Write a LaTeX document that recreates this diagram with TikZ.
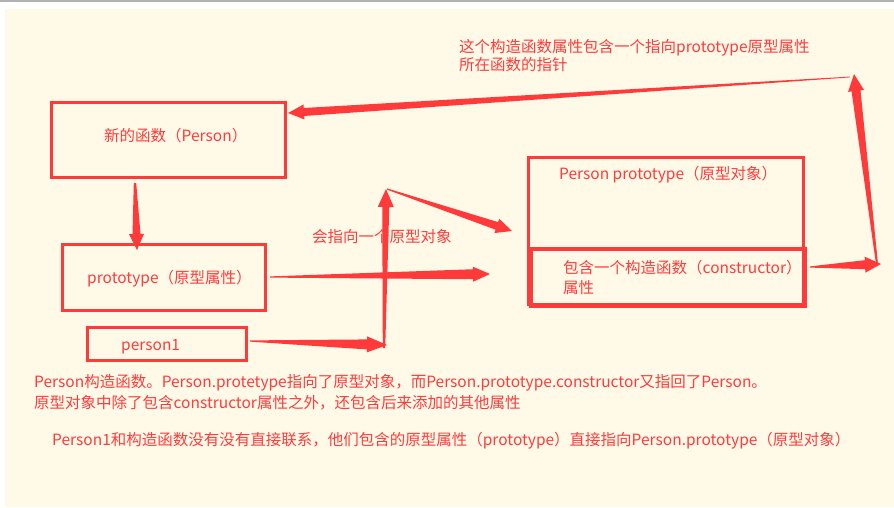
\documentclass[tikz,border=0pt]{standalone}
\usepackage{fontspec}
\setmainfont{Noto Sans CJK SC}
\usetikzlibrary{calc}
\definecolor{cream}{RGB}{255,249,232}
\definecolor{boxred}{RGB}{255,58,58}
\definecolor{txtred}{RGB}{255,60,60}
\definecolor{topgrey}{RGB}{178,178,178}
\tikzset{
  boxline/.style={draw=boxred,line width=3pt},
  lbl/.style={text=txtred,inner sep=0pt,anchor=west,font=\fontsize{15.5pt}{20pt}\selectfont,align=left},
}
% tapered arrow: #1 start, #2 tip, #3 start half width, #4 shaft half width at head, #5 head length, #6 head half width
\newcommand\taperarrow[6]{%
  \path ($(#2)!#5!(#1)$) coordinate (tmpc);
  \fill[boxred] ($(#1)!#3!90:(#2)$) -- ($(tmpc)!#4!90:(#2)$) -- ($(tmpc)!#6!90:(#2)$) -- (#2)
     -- ($(tmpc)!#6!-90:(#2)$) -- ($(tmpc)!#4!-90:(#2)$) -- ($(#1)!#3!-90:(#2)$) -- cycle;
}
\begin{document}
\begin{tikzpicture}[x=1pt,y=-1pt]
\useasboundingbox (0,0) rectangle (894,507);
\fill[white] (0,0) rectangle (894,507);
\fill[topgrey] (0,0) rectangle (894,1.5);
\fill[cream] (5,9) rectangle (894,507);

% boxes
\node[boxline,inner sep=0pt,minimum width=234pt,minimum height=75pt] (fn) at (168.5,140) {};
\node[boxline,inner sep=0pt,minimum width=203pt,minimum height=66pt] (proto) at (164,277.5) {};
\node[boxline,inner sep=0pt,minimum width=159pt,minimum height=33pt] (p1) at (167,344) {};
\node[boxline,inner sep=0pt,minimum width=275pt,minimum height=146.5pt] (pobj) at (666,230.75) {};
\node[draw=boxred,line width=4pt,inner sep=0pt,minimum width=274pt,minimum height=57pt] (ctor) at (668,277) {};

% texts
\node[lbl] (t1) at (104,136) {新的函数（Person）};
\node[lbl] (t2) at (87,279) {prototype（原型属性）};
\node[lbl] (t3) at (121,347) {person1};
\node[lbl] (t4) at (559,175) {Person prototype（原型对象）};
\node[lbl] (t5) at (563,277) {包含一个构造函数（constructor）\\属性};
\node[lbl,font=\fontsize{15.5pt}{18pt}\selectfont] (t6) at (459,56) {这个构造函数属性包含一个指向prototype原型属性\\所在函数的指针};
\node[lbl] (t7) at (312,237) {会指向一个原型对象};
\node[lbl] (b1) at (34,383) {Person构造函数。Person.protetype指向了原型对象，而Person.prototype.constructor又指回了Person。};
\node[lbl] (b2) at (34,403) {原型对象中除了包含constructor属性之外，还包含后来添加的其他属性};
\node[lbl] (b3) at (52,441) {Person1和构造函数没有没有直接联系，他们包含的原型属性（prototype）直接指向Person.prototype（原型对象）};

% connector end points
\coordinate (a1s) at (850,77);
\coordinate (a1t) at (288,113);
\coordinate (a2s) at (877,264);
\coordinate (a2t) at (854,74);
\coordinate (a3s) at (135,183);
\coordinate (a3t) at (137,250);
\coordinate (a4s) at (270,277);
\coordinate (a4t) at (490,274);
\coordinate (a5s) at (250,341);
\coordinate (a5t) at (387,345);
\coordinate (a6s) at (384,348);
\coordinate (a6t) at (386,189);
\coordinate (a7s) at (387,189);
\coordinate (a7t) at (512,231);
\coordinate (a8s) at (810,267);
\coordinate (a8t) at (881,264);

\taperarrow{a1s}{a1t}{0.4pt}{4pt}{16pt}{7.5pt}
\taperarrow{a2s}{a2t}{1pt}{4.5pt}{17pt}{8pt}
\taperarrow{a3s}{a3t}{1.2pt}{4pt}{16pt}{7.5pt}
\taperarrow{a4s}{a4t}{0.6pt}{5pt}{17pt}{7.5pt}
\taperarrow{a5s}{a5t}{0.6pt}{5pt}{20pt}{8pt}
\taperarrow{a6s}{a6t}{1.2pt}{3.5pt}{18pt}{8pt}
\taperarrow{a7s}{a7t}{0.6pt}{4pt}{16pt}{7.5pt}
\taperarrow{a8s}{a8t}{0.6pt}{4.5pt}{16pt}{8pt}
\end{tikzpicture}
\end{document}
